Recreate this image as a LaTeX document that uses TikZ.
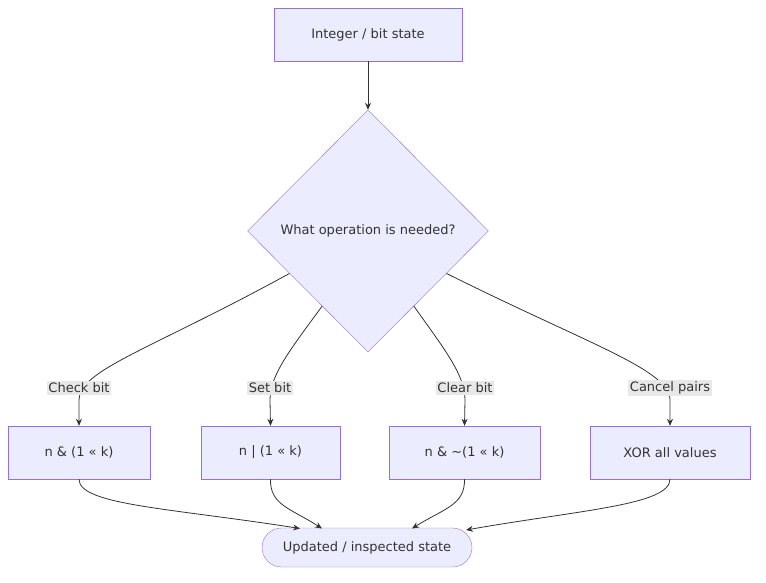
\documentclass[tikz,border=0pt]{standalone}
\usepackage{fontspec}
\setmainfont{DejaVu Sans}
\usetikzlibrary{shapes.geometric,arrows.meta,calc}
\definecolor{nfill}{HTML}{ECECFF}
\definecolor{nstroke}{HTML}{9370DB}
\definecolor{ink}{HTML}{333333}
\definecolor{lbg}{HTML}{E8E8E8}
\begin{document}
\begin{tikzpicture}[x=1pt,y=-1pt,
  box/.style={draw=nstroke,fill=nfill,text=ink,inner sep=0,font=\fontsize{13}{15}\selectfont},
  lab/.style={fill=lbg,text=ink,inner sep=1.5pt,font=\fontsize{13}{15}\selectfont},
  edge/.style={draw=ink,line width=0.8pt,-{Stealth[length=7pt,width=6pt]}}]
\useasboundingbox (0,0) rectangle (766,582);
\node[box,minimum width=188,minimum height=53] (top) at (368,34.5) {Integer / bit state};
\node[box,diamond,aspect=1,minimum width=241,minimum height=242] (d) at (368,231) {What operation is needed?};
\node[box,minimum width=142,minimum height=53] (b1) at (79,452.5) {n \& (1 << k)};
\node[box,minimum width=139,minimum height=53] (b2) at (270.5,452.5) {n | (1 << k)};
\node[box,minimum width=151,minimum height=53] (b3) at (464.5,452.5) {n \& \textasciitilde(1 << k)};
\node[box,minimum width=160,minimum height=53] (b4) at (670,452.5) {XOR all values};
\node[box,rounded corners=19.5,minimum width=210,minimum height=39] (end) at (367,547.5) {Updated / inspected state};
\draw[edge] (top) -- (d.north);
\coordinate (s1) at ($(d.west)!0.35!(d.south)$);
\coordinate (s2) at ($(d.west)!0.62!(d.south)$);
\coordinate (s3) at ($(d.east)!0.62!(d.south)$);
\coordinate (s4) at ($(d.east)!0.35!(d.south)$);
\draw[edge] (s1) .. controls (150,350) and (79,370) .. (79,400) -- (b1.north);
\draw[edge] (s2) .. controls (290,350) and (270,375) .. (270,400) -- (b2.north);
\draw[edge] (s3) .. controls (445,350) and (465,375) .. (465,400) -- (b3.north);
\draw[edge] (s4) .. controls (590,345) and (670,370) .. (670,400) -- (b4.north);
\node[lab] (l1) at (79,388) {Check bit};
\node[lab] (l2) at (270,388) {Set bit};
\node[lab] (l3) at (465,388) {Clear bit};
\node[lab] (l4) at (670,388) {Cancel pairs};
\coordinate (e1) at (300,528.5);
\coordinate (e2) at (322,528.5);
\coordinate (e3) at (412,528.5);
\coordinate (e4) at (466,530);
\draw[edge] (b1.south) .. controls (79,505) and (170,508) .. (e1);
\draw[edge] (b2.south) .. controls (270,505) and (290,508) .. (e2);
\draw[edge] (b3.south) .. controls (465,505) and (445,508) .. (e3);
\draw[edge] (b4.south) .. controls (670,505) and (580,510) .. (e4);
\end{tikzpicture}
\end{document}
